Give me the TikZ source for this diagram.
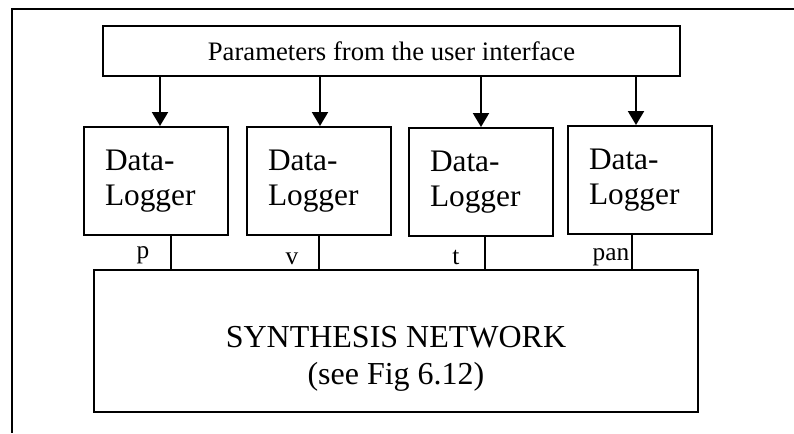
\documentclass[tikz,border=0pt]{standalone}
\usepackage{fontspec}
\setmainfont{Liberation Serif}
\usetikzlibrary{arrows.meta}
\tikzset{
  frameline/.style={line width=1.8pt},
  topbox/.style={draw, line width=1.5pt, minimum width=432.75pt, minimum height=37.5pt,
    inner sep=0pt, font=\fontsize{20}{24}\selectfont},
  dlbox/.style={draw, line width=1.5pt, minimum height=81pt, text width=76.5pt,
    inner xsep=15.75pt, inner ysep=0pt, align=left, font=\fontsize{23.5}{26.25}\selectfont},
  synbox/.style={draw, line width=1.5pt, minimum width=453pt, minimum height=106.5pt},
  syntext/.style={align=center, font=\fontsize{24}{27.75}\selectfont},
  feed/.style={line width=1.6pt, -{Triangle[width=12pt,length=10.5pt]}},
  sig/.style={line width=0.8pt},
  siglabel/.style={anchor=base, inner sep=0pt, font=\fontsize{19}{22}\selectfont}
}
\begin{document}
\begin{tikzpicture}[x=0.75pt,y=-0.75pt]
\useasboundingbox (0,0) rectangle (794,433);

% page frame
\draw[frameline] (794,9) -- (12,9) -- (12,433);

% source of parameters
\node[topbox] (ui) at (391.5,51) {Parameters from the user interface};

% data loggers
\node[dlbox] (d1) at (156,181) {Data-\\Logger};
\node[dlbox] (d2) at (319,181) {Data-\\Logger};
\node[dlbox] (d3) at (481,182) {Data-\\Logger};
\node[dlbox] (d4) at (640,180) {Data-\\Logger};

% synthesis network
\node[synbox] (syn) at (396,341) {};
\node[syntext] (syntxt) at (396,359) {SYNTHESIS NETWORK\\(see Fig 6.12)};

% parameter feeds
\draw[feed] (ui.south -| d1.north) ++(4,0) coordinate (a1) -- (a1 |- d1.north);
\draw[feed] (ui.south -| d2.north) ++(1,0) coordinate (a2) -- (a2 |- d2.north);
\draw[feed] (ui.south -| d3.north) coordinate (a3) -- (a3 |- d3.north);
\draw[feed] (ui.south -| d4.north) ++(-4,0) coordinate (a4) -- (a4 |- d4.north);

% outputs into the network
\path (171,0) coordinate (x1) (319,0) coordinate (x2)
      (485,0) coordinate (x3) (632,0) coordinate (x4);
\draw[sig] (x1 |- d1.south) -- ([yshift=-1.5pt]x1 |- syn.north);
\draw[sig] (x2 |- d2.south) -- ([yshift=-1.5pt]x2 |- syn.north);
\draw[sig] (x3 |- d3.south) -- ([yshift=-1.5pt]x3 |- syn.north);
\draw[sig] (x4 |- d4.south) -- ([yshift=-1.5pt]x4 |- syn.north);

\node[siglabel] (lp) at (143,258) {p};
\node[siglabel] (lv) at (292,264) {v};
\node[siglabel] (lt) at (456,264) {t};
\node[siglabel] (lpan) at (611,260) {pan};
\end{tikzpicture}
\end{document}
